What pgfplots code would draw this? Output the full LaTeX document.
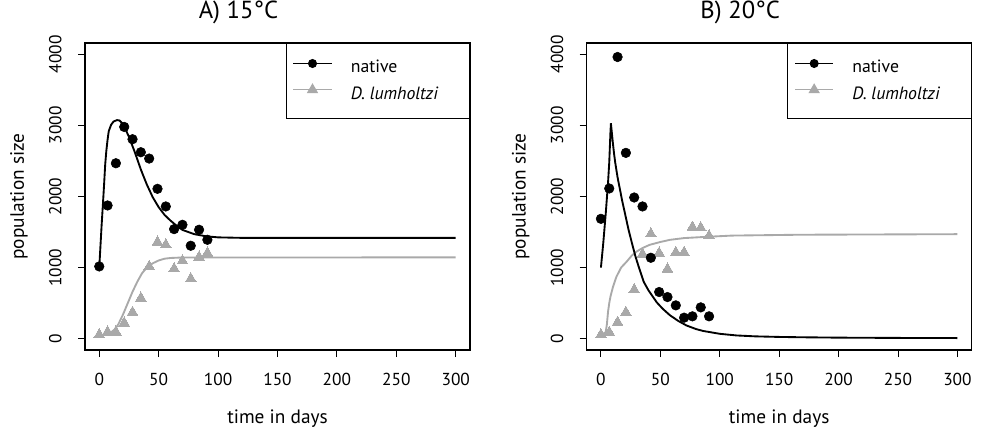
\documentclass[border=0pt]{standalone}
\usepackage{fontspec}
\setmainfont{PT Sans}
\usepackage{pgfplots}
\usepackage{pgfplotstable}
\pgfplotsset{compat=1.18}

\definecolor{fitgray}{HTML}{A9A9A9}

% observed counts, weekly samples (days 0..91)
\pgfplotstableread{
day native lumholtzi
0  1016   56
7  1874   94
14 2468   94
21 2979  220
28 2806  370
35 2623  571
42 2534 1016
49 2108 1358
56 1860 1321
63 1541  984
70 1602 1096
77 1307  843
84 1532 1148
91 1391 1204
}\obsA

\pgfplotstableread{
day native lumholtzi
0  1686   56
7  2113   89
14 3963  230
21 2614  370
28 1986  689
35 1860 1190
42 1138 1475
49  656 1204
56  585  979
63  468 1213
70  295 1213
77  314 1569
84  440 1560
91  314 1447
}\obsB

% fitted model curves
\pgfplotstableread{
day pop
0 1000
1 1300
2 1600
3 1870
4 2150
5 2450
6 2650
7 2800
8 2920
10 3010
12 3055
15 3075
17 3070
20 3020
25 2840
30 2620
35 2380
40 2170
45 1990
50 1850
55 1740
60 1660
65 1590
70 1530
80 1470
90 1440
100 1425
120 1418
300 1418
}\fitAnat

\pgfplotstableread{
day pop
0 40
5 55
10 90
13 130
16 200
20 340
24 500
28 660
32 800
36 920
40 1000
45 1060
50 1100
55 1125
60 1135
70 1142
300 1143
}\fitAlum

\pgfplotstableread{
day pop
0 1000
2 1350
4 1750
6 2200
7 2480
8 2900
8.4 3030
9 2930
10 2760
11 2610
12 2480
14 2270
16 2100
18 1930
20 1780
23 1550
26 1350
29 1160
32 1000
36 800
40 680
47 510
52 420
58 330
65 250
72 185
80 135
86 108
100 68
114 45
130 32
150 24
170 19
200 14
250 10
300 8
}\fitBnat

\pgfplotstableread{
day pop
0 50
4 90
5 200
6 380
7 500
8 590
10 720
13 870
17 1000
22 1090
26 1170
30 1225
35 1275
41 1320
50 1360
58 1390
70 1415
86 1430
110 1450
167 1462
300 1470
}\fitBlum

\pgfplotsset{
  rpanel/.style={
    scale only axis,
    width=288.75pt, height=230.25pt,
    anchor=south west,
    xmin=-12, xmax=312, ymin=-160, ymax=4160,
    xtick={0,50,...,300}, ytick={0,1000,...,4000},
    xtick pos=bottom, ytick pos=left,
    tick align=outside, major tick length=5.25pt,
    every tick/.style={black, line width=0.75pt},
    axis line style={line width=0.8pt},
    font=\fontsize{13}{15}\selectfont,
    /pgf/number format/assume math mode=true,
    /pgf/number format/set thousands separator={},
    xticklabel style={anchor=base, yshift=-21pt},
    yticklabel style={rotate=90, anchor=base, yshift=12.5pt},
    xlabel={time in days},
    ylabel={population size},
    label style={font=\fontsize{14.5}{16}\selectfont},
    xlabel style={at={(axis description cs:0.5,0)}, anchor=base, yshift=-54.75pt},
    ylabel style={at={(axis description cs:0,0.5)}, anchor=center, yshift=49.5pt},
    title style={at={(axis description cs:0.5,1)}, anchor=base, yshift=12.75pt, xshift=-29.25pt,
      font=\fontsize{18.5}{20}\selectfont},
    legend style={at={(axis description cs:1,1)}, anchor=north east, draw=black,
      line width=0.8pt, inner xsep=5pt, inner ysep=8.4pt, row sep=0pt,
      nodes={inner sep=0pt, text height=13.5pt, text depth=6.25pt},
      /tikz/every odd column/.append style={column sep=14pt},
      font=\fontsize{13.3}{15}\selectfont},
    legend cell align=left,
    legend image code/.code={
      \draw[mark repeat=2, mark phase=2, #1]
        plot coordinates {(0pt,3.3pt) (14.35pt,3.3pt) (28.7pt,3.3pt)};
    },
    natline/.style={black, line width=1.4pt, no marks},
    lumline/.style={fitgray, line width=1.4pt, no marks},
    natpts/.style={only marks, mark=*, mark size=3.6pt, mark options={fill=black, draw=black}},
    lumpts/.style={only marks, mark=triangle*, mark size=4.6pt,
      mark options={fill=fitgray, draw=fitgray, line width=0pt}},
  }
}

\begin{document}
\begin{tikzpicture}
\path[use as bounding box] (0pt,0pt) rectangle (735.75pt,322.5pt);

\begin{axis}[rpanel, at={(63.75pt,60pt)}, title={A) 15°C}]
  \addlegendimage{black, line width=0.75pt, mark=*, mark size=3pt}
  \addlegendentry{\makebox[84pt][l]{native}}
  \addlegendimage{fitgray, line width=0.75pt, mark=triangle*, mark size=4.2pt}
  \addlegendentry{\makebox[84pt][l]{\itshape D. lumholtzi}}
  \addplot[lumline, forget plot] table[x=day, y=pop] {\fitAlum};
  \addplot[natline, forget plot] table[x=day, y=pop] {\fitAnat};
  \addplot[lumpts, forget plot] table[x=day, y=lumholtzi] {\obsA};
  \addplot[natpts, forget plot] table[x=day, y=native] {\obsA};
\end{axis}

\begin{axis}[rpanel, at={(440pt,60pt)}, title={B) 20°C}]
  \addlegendimage{black, line width=0.75pt, mark=*, mark size=3pt}
  \addlegendentry{\makebox[84pt][l]{native}}
  \addlegendimage{fitgray, line width=0.75pt, mark=triangle*, mark size=4.2pt}
  \addlegendentry{\makebox[84pt][l]{\itshape D. lumholtzi}}
  \addplot[lumline, forget plot] table[x=day, y=pop] {\fitBlum};
  \addplot[natline, forget plot] table[x=day, y=pop] {\fitBnat};
  \addplot[lumpts, forget plot] table[x=day, y=lumholtzi] {\obsB};
  \addplot[natpts, forget plot] table[x=day, y=native] {\obsB};
\end{axis}
\end{tikzpicture}
\end{document}
